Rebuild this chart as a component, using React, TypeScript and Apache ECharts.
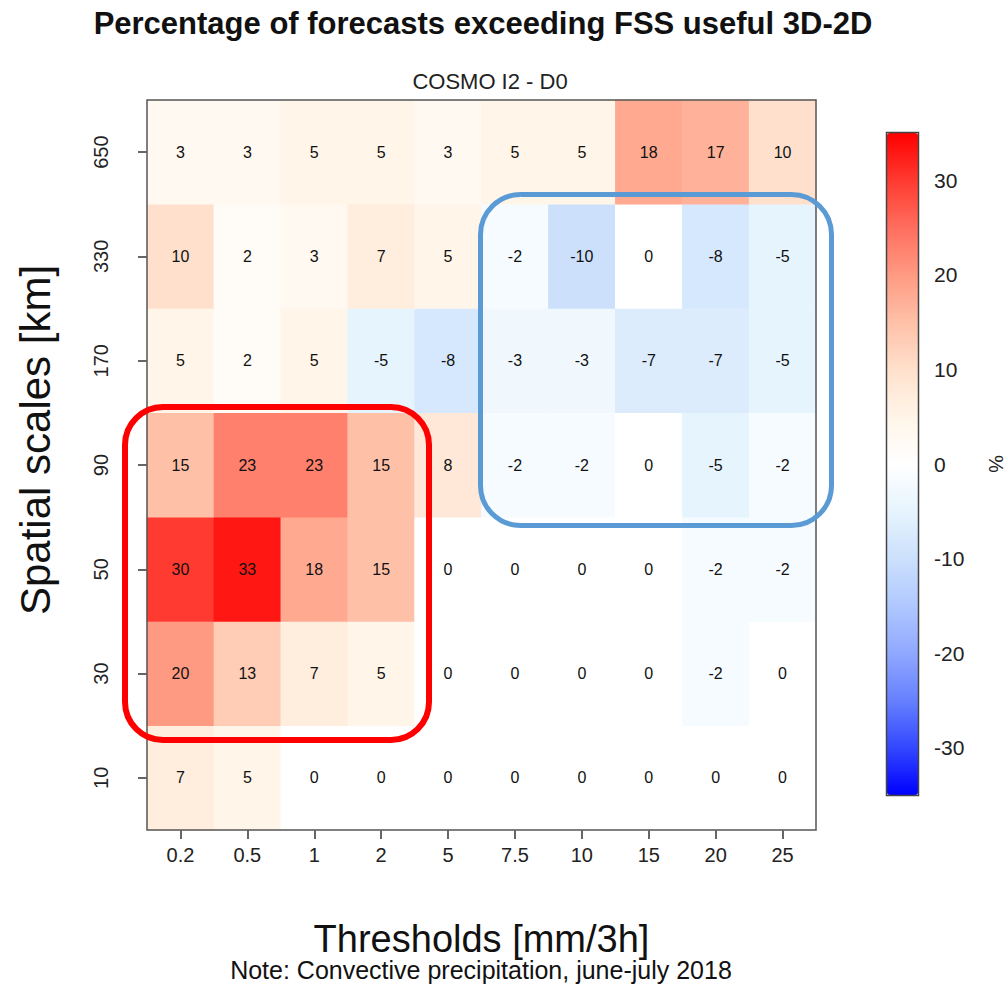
import React, { useEffect, useRef } from "react";
import * as echarts from "echarts";

const thresholds = ["0.2", "0.5", "1", "2", "5", "7.5", "10", "15", "20", "25"];
const scales = ["10", "30", "50", "90", "170", "330", "650"];
// rows listed bottom (10 km) to top (650 km)
const row10 = [7, 5, 0, 0, 0, 0, 0, 0, 0, 0];
const row30 = [20, 13, 7, 5, 0, 0, 0, 0, -2, 0];
const row50 = [30, 33, 18, 15, 0, 0, 0, 0, -2, -2];
const row90 = [15, 23, 23, 15, 8, -2, -2, 0, -5, -2];
const row170 = [5, 2, 5, -5, -8, -3, -3, -7, -7, -5];
const row330 = [10, 2, 3, 7, 5, -2, -10, 0, -8, -5];
const row650 = [3, 3, 5, 5, 3, 5, 5, 18, 17, 10];
const rows = [row10, row30, row50, row90, row170, row330, row650];
const colorbarTicks = [-30, -20, -10, 0, 10, 20, 30];

const FONT = "Liberation Sans, Arial, sans-serif";

export default function App() {
  const ref = useRef<HTMLDivElement>(null);
  useEffect(() => {
    if (!ref.current) return;
    const chart = echarts.init(ref.current, undefined, { renderer: "svg" });
    const data: number[][] = [];
    rows.forEach((r, yi) => r.forEach((v, xi) => data.push([xi, yi, v])));
    chart.setOption({
      animation: false,
      backgroundColor: "#ffffff",
      textStyle: { fontFamily: FONT },
      grid: [
        { left: 147, top: 100, width: 669, height: 730, show: true, borderColor: "#555", borderWidth: 1.5, backgroundColor: "transparent", z: 5 },
        { left: 887, top: 133, width: 31, height: 662 },
      ],
      xAxis: [
        {
          type: "category", data: thresholds, gridIndex: 0,
          axisLine: { show: false },
          axisTick: { show: true, alignWithLabel: true, length: 9, lineStyle: { color: "#333", width: 1.5 } },
          axisLabel: { fontSize: 20, color: "#222", margin: 15, fontFamily: FONT },
          splitLine: { show: false },
          name: "Thresholds [mm/3h]", nameLocation: "middle", nameGap: 90,
          nameTextStyle: { fontSize: 38, color: "#111", fontFamily: FONT },
        },
        { type: "value", gridIndex: 1, show: false, min: 0, max: 1 },
      ],
      yAxis: [
        {
          type: "category", data: scales, gridIndex: 0,
          axisLine: { show: false },
          axisTick: { show: true, alignWithLabel: true, length: 9, lineStyle: { color: "#333", width: 1.5 } },
          axisLabel: { fontSize: 20, color: "#222", rotate: 90, margin: 36, fontFamily: FONT },
          splitLine: { show: false },
        },
        {
          type: "value", gridIndex: 1, min: -35, max: 35, position: "right",
          axisLine: { show: false },
          splitLine: { show: false },
          axisTick: { show: true, length: 13, customValues: colorbarTicks, lineStyle: { color: "#555", width: 1.5 } },
          axisLabel: { show: true, customValues: colorbarTicks, fontSize: 21, color: "#222", margin: 16, fontFamily: FONT },
          name: "%", nameLocation: "middle", nameGap: 68, nameRotate: -90,
          nameTextStyle: { fontSize: 20, color: "#222", fontFamily: FONT },
        },
      ],
      visualMap: {
        type: "continuous",
        min: -35, max: 35,
        seriesIndex: 0,
        show: true,
        calculable: false,
        left: 887, top: 133,
        itemWidth: 31, itemHeight: 662,
        padding: 0,
        text: ["", ""],
        showLabel: false,
        hoverLink: false,
        inRange: {
          color: [
            "#0000FF", "#3347FF", "#6680FF", "#90A8FF", "#B0C8FF", "#CCE0FC", "#E6F4FE",
            "#FFFFFF",
            "#FFF5E8", "#FFE0CC", "#FFC0A8", "#FF9A82", "#FF6E5E", "#FF3A30", "#FF0000",
          ],
        },
      },
      series: [
        {
          type: "heatmap",
          xAxisIndex: 0, yAxisIndex: 0,
          data,
          label: {
            show: true, fontSize: 16, color: "#111", fontFamily: FONT,
            formatter: (p: any) => String(p.value[2]),
          },
          itemStyle: { borderWidth: 0 },
          emphasis: { disabled: true },
        },
      ],
      graphic: [
        { type: "text", x: 483, y: 23, z: 100, style: { text: "Percentage of forecasts exceeding FSS useful 3D-2D", fontSize: 31, fontWeight: "bold", fill: "#111", fontFamily: FONT, textAlign: "center", textVerticalAlign: "middle" } },
        { type: "text", x: 490, y: 81, z: 100, style: { text: "COSMO I2 - D0", fontSize: 22, fill: "#222", fontFamily: FONT, textAlign: "center", textVerticalAlign: "middle" } },
        { type: "text", x: 35, y: 440, rotation: Math.PI / 2, z: 100, style: { text: "Spatial scales [km]", fontSize: 42, fill: "#111", fontFamily: FONT, textAlign: "center", textVerticalAlign: "middle" } },
        { type: "text", x: 481, y: 970, z: 100, style: { text: "Note: Convective precipitation, june-july 2018", fontSize: 25, fill: "#111", fontFamily: FONT, textAlign: "center", textVerticalAlign: "middle" } },
        { type: "rect", z: 100, shape: { x: 886.5, y: 132.5, width: 32, height: 663 }, style: { fill: "none", stroke: "#444", lineWidth: 1.5 } },
        { type: "rect", z: 100, shape: { x: 125, y: 407, width: 304, height: 333, r: 38 }, style: { fill: "none", stroke: "#FF0000", lineWidth: 6 } },
        { type: "rect", z: 100, shape: { x: 480.5, y: 194.5, width: 351, height: 331, r: 40 }, style: { fill: "none", stroke: "#5B9BD5", lineWidth: 5 } },
      ],
    });
    return () => chart.dispose();
  }, []);
  return <div ref={ref} style={{ width: 1007, height: 988, position: "absolute", left: 0, top: 0 }} />;
}
